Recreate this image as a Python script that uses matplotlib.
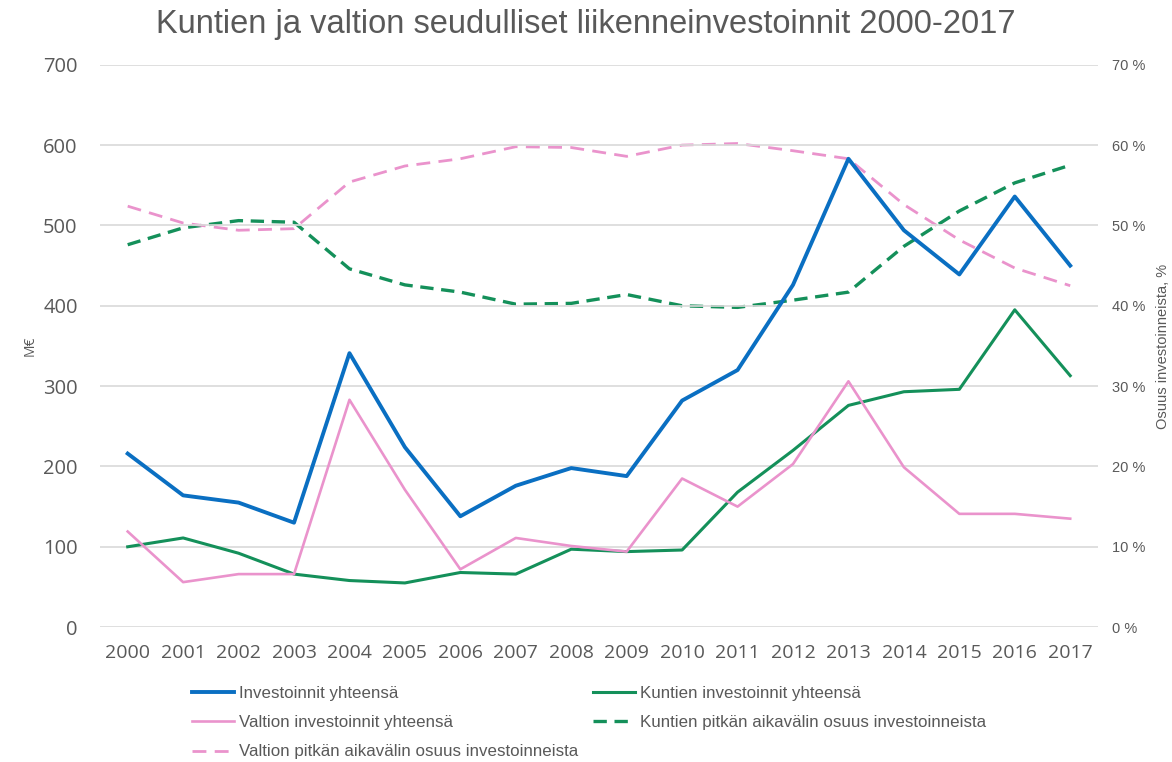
import numpy as np
import matplotlib
matplotlib.use("Agg")
import matplotlib.pyplot as plt
from matplotlib.ticker import FuncFormatter

years = [str(y) for y in range(2000, 2018)]

# M€
investoinnit = [216, 164, 155, 130, 341, 224, 138, 176, 198, 188,
                282, 320, 426, 583, 494, 439, 536, 450]
kuntien = [100, 111, 92, 66, 58, 55, 68, 66, 97, 94,
           96, 168, 220, 276, 293, 296, 395, 313]
valtion = [119, 56, 66, 66, 283, 171, 72, 111, 101, 94,
           185, 150, 203, 306, 199, 141, 141, 135]

# pitkän aikavälin osuus, %
kuntien_osuus = [47.6, 49.7, 50.6, 50.4, 44.6, 42.6, 41.7, 40.2, 40.3, 41.4,
                 40.0, 39.8, 40.7, 41.7, 47.4, 51.8, 55.3, 57.5]
valtion_osuus = [52.4, 50.3, 49.4, 49.6, 55.4, 57.4, 58.3, 59.8, 59.7, 58.6,
                 60.0, 60.2, 59.3, 58.3, 52.6, 48.2, 44.7, 42.5]

BLUE = "#0a6fc2"
GREEN = "#14905a"
PINK = "#ea93cc"
TXT = "#595959"

fig = plt.figure(figsize=(11.72, 7.62), dpi=100)
ax = fig.add_axes([0.0853, 0.177, 0.8515, 0.738])
ax2 = ax.twinx()

x = np.arange(len(years))

# osuudet oikealla akselilla
l4, = ax2.plot(x, kuntien_osuus, color=GREEN, lw=2.4, dashes=(4.0, 2.3),
               label="Kuntien pitkän aikavälin osuus investoinneista")
l5, = ax2.plot(x, valtion_osuus, color=PINK, lw=2.0, dashes=(5.0, 3.0),
               label="Valtion pitkän aikavälin osuus investoinneista")

l1, = ax.plot(x, investoinnit, color=BLUE, lw=2.8, label="Investoinnit yhteensä")
l2, = ax.plot(x, kuntien, color=GREEN, lw=2.2, label="Kuntien investoinnit yhteensä")
l3, = ax.plot(x, valtion, color=PINK, lw=1.9, label="Valtion investoinnit yhteensä")

# pääakselin viivat päällimmäisiksi
ax.set_zorder(ax2.get_zorder() + 1)
ax.patch.set_visible(False)

ax.set_xlim(-0.5, 17.5)
ax.set_ylim(0, 700)
ax2.set_ylim(0, 70)
ax.set_yticks(range(0, 701, 100))
ax2.set_yticks(range(0, 71, 10))
ax2.yaxis.set_major_formatter(FuncFormatter(lambda v, p: f"{int(v)} %"))
ax.set_xticks(x)
ax.set_xticklabels(years)

ax.grid(axis="y", color="#d9d9d9", lw=1.2)
ax.set_axisbelow(True)
for a in (ax, ax2):
    for s in a.spines.values():
        s.set_visible(False)
    a.tick_params(length=0, colors=TXT)

for t in ax.get_yticklabels():
    t.set_fontfamily("Open Sans")
    t.set_fontsize(14.5)
for t in ax.get_xticklabels():
    t.set_fontfamily("Open Sans")
    t.set_fontsize(14)
ax.tick_params(axis="y", pad=16)
ax.tick_params(axis="x", pad=12)
for t in ax2.get_yticklabels():
    t.set_fontfamily("Liberation Sans")
    t.set_fontsize(10.5)
ax2.tick_params(axis="y", pad=10)

ax.set_ylabel("M€", fontsize=10, color=TXT, family="Open Sans", labelpad=4)
ax2.set_ylabel("Osuus investoinneista, %", fontsize=10.5, color=TXT,
               family="Liberation Sans", labelpad=8)

fig.text(0.5, 0.968, "Kuntien ja valtion seudulliset liikenneinvestoinnit 2000-2017",
         ha="center", va="center", fontsize=23.5, color=TXT, family="Liberation Sans")

legend_font = {"family": "Liberation Sans", "size": 12.2}
leg_kw = dict(frameon=False, handlelength=2.5, handletextpad=0.25,
              labelspacing=0.84, prop=legend_font, labelcolor=TXT, loc="upper left",
              borderaxespad=0, borderpad=0)
leg1 = fig.legend(handles=[l1, l3, l5], bbox_to_anchor=(0.1638, 0.0997), **leg_kw)
leg2 = fig.legend(handles=[l2, l4], bbox_to_anchor=(0.506, 0.0997), **leg_kw)

fig.savefig("out.png", dpi=100)
